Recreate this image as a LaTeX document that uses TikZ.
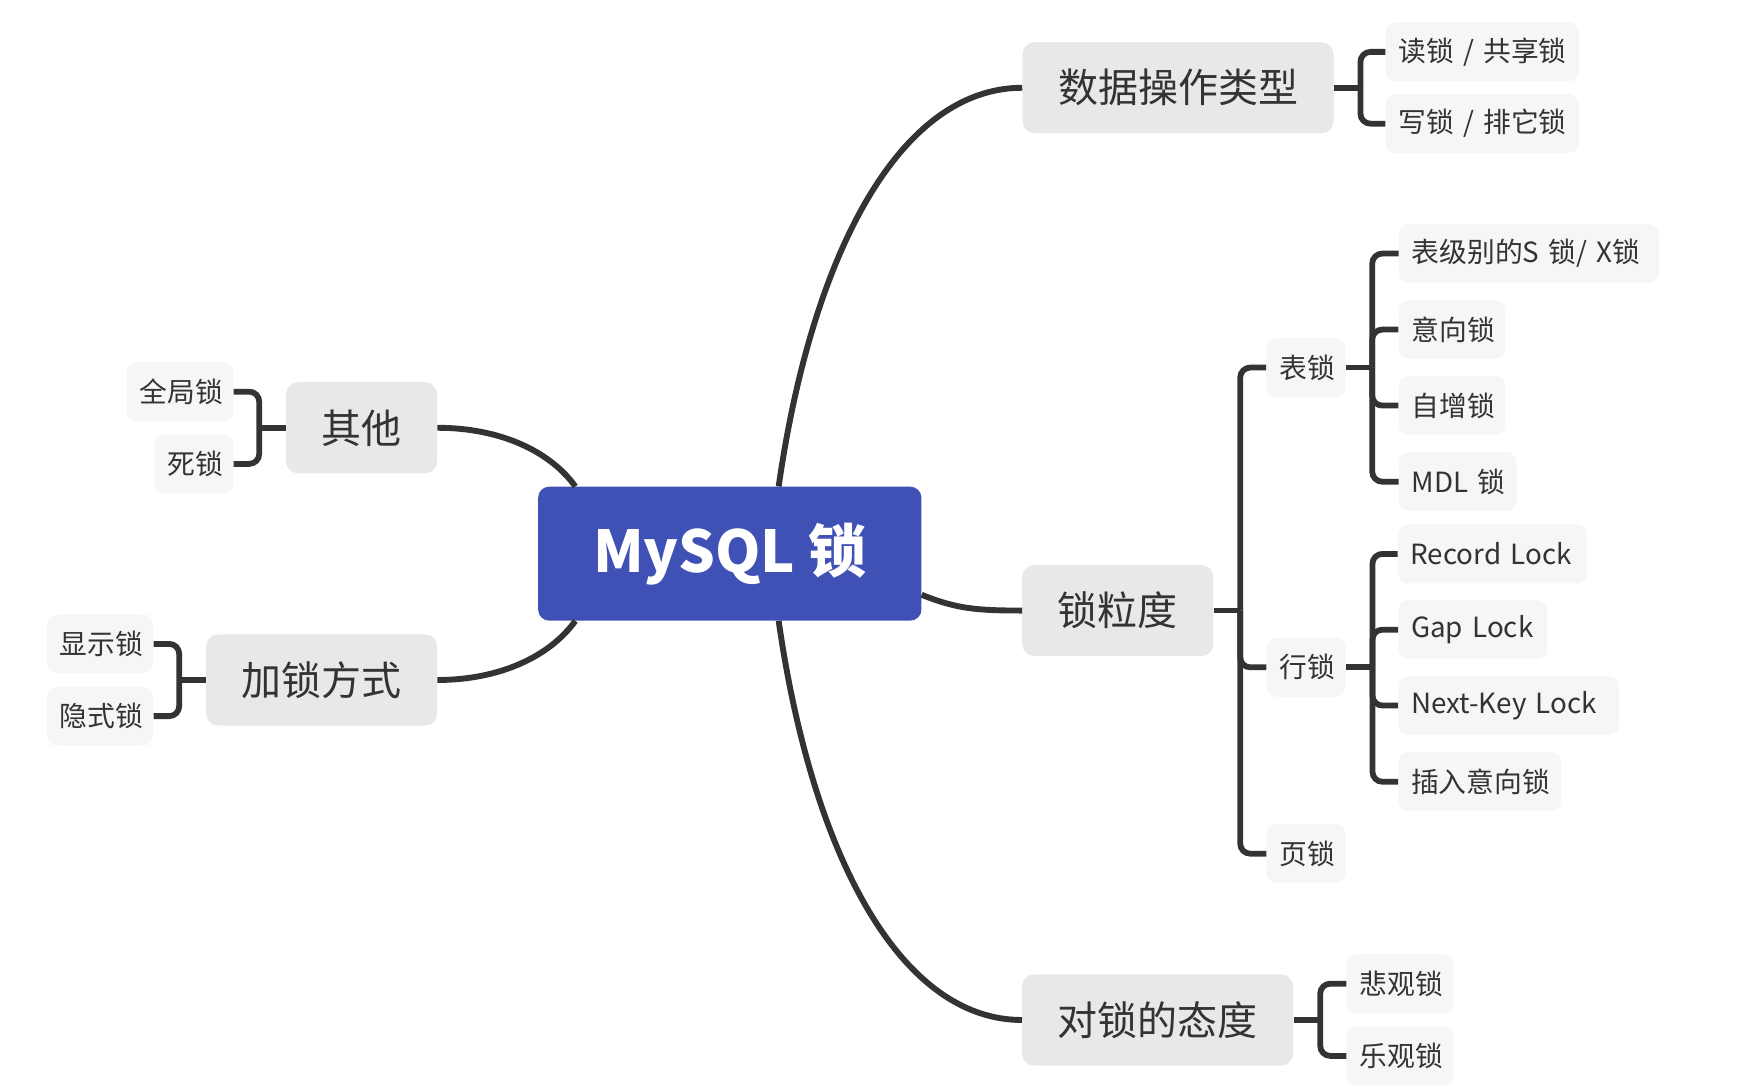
\documentclass[tikz,border=0pt]{standalone}
\usepackage{fontspec}
\setmainfont{Noto Sans CJK SC}
\definecolor{rootblue}{RGB}{63,81,181}
\definecolor{lonegray}{RGB}{232,232,232}
\definecolor{ltwogray}{RGB}{246,246,246}
\definecolor{txtc}{RGB}{51,51,51}
\definecolor{linec}{RGB}{51,51,51}
\tikzset{
  rootnode/.style={rectangle, rounded corners=10pt, fill=rootblue, text=white, inner sep=0pt,
    minimum width=345pt, minimum height=120.6pt, font=\fontsize{52}{60}\selectfont\bfseries},
  lone/.style={rectangle, rounded corners=11pt, fill=lonegray, text=txtc, inner sep=0pt,
    minimum height=82pt, font=\fontsize{36}{42}\selectfont},
  ltwo/.style={rectangle, rounded corners=9pt, fill=ltwogray, text=txtc, inner ysep=0pt,
    inner xsep=11.5pt, minimum height=53pt, align=left, font=\fontsize{25}{30}\selectfont},
  curvec/.style={draw=linec, line width=5.3pt},
  brk/.style={draw=linec, line width=5.2pt, rounded corners=9pt},
}
\begin{document}
\begin{tikzpicture}[x=1pt, y=-1pt]
\useasboundingbox (0,0) rectangle (1564.2,979.2);

% root
\node[rootnode] (root) at (656.8,498.3) {MySQL 锁};

% level 1
\node[lone, minimum width=280pt] (n1) at (1060.2,79) {数据操作类型};
\node[lone, minimum width=172pt] (n2) at (1006,549.5) {锁粒度};
\node[lone, minimum width=244pt] (n3) at (1042,918) {对锁的态度};
\node[lone, minimum width=136pt] (n4) at (325.5,385) {其他};
\node[lone, minimum width=208pt] (n5) at (289.5,612) {加锁方式};

% level 2
\node[ltwo, text width=151pt] (a1) at (1334,46.7) {\mbox{读锁 / 共享锁}};
\node[ltwo, text width=151pt] (a2) at (1334,111.3) {\mbox{写锁 / 排它锁}};
\node[ltwo, text width=48pt] (b1) at (1175.3,330.8) {\mbox{表锁}};
\node[ltwo, text width=48pt] (b2) at (1175.5,600.6) {\mbox{行锁}};
\node[ltwo, text width=48pt] (b3) at (1175.5,768.3) {\mbox{页锁}};
\node[ltwo, text width=211pt] (c1) at (1376,228.2) {\mbox{表级别的S 锁/ X锁}};
\node[ltwo, text width=73pt] (c2) at (1306.8,296.6) {\mbox{意向锁}};
\node[ltwo, text width=73pt] (c3) at (1306.8,365) {\mbox{自增锁}};
\node[ltwo, text width=83pt] (c4) at (1312,433.5) {\mbox{MDL 锁}};
\node[ltwo, text width=147pt] (d1) at (1343,498.5) {\mbox{Record Lock}};
\node[ltwo, text width=111pt] (d2) at (1325.5,566.7) {\mbox{Gap Lock}};
\node[ltwo, text width=175.5pt] (d3) at (1357.8,635) {\mbox{Next-Key Lock}};
\node[ltwo, text width=123.7pt] (d4) at (1331.8,703.6) {\mbox{插入意向锁}};
\node[ltwo, text width=73pt] (e1) at (1260,885.3) {\mbox{悲观锁}};
\node[ltwo, text width=73pt] (e2) at (1260,950.3) {\mbox{乐观锁}};
\node[ltwo, text width=73pt] (f1) at (162,352.5) {\mbox{全局锁}};
\node[ltwo, text width=48pt] (f2) at (174.5,417.5) {\mbox{死锁}};
\node[ltwo, text width=73pt] (g1) at (90,579.5) {\mbox{显示锁}};
\node[ltwo, text width=73pt] (g2) at (90,644.5) {\mbox{隐式锁}};

% main curves
\draw[curvec] ([xshift=44pt]root.north) .. controls +(30,-210) and +(-110,0) .. (n1.west);
\draw[curvec] ([xshift=44pt]root.south) .. controls +(30,210) and +(-110,0) .. (n3.west);
\draw[curvec] ([yshift=-37pt]root.east) .. controls +(31,12.5) and +(-41,0) .. (n2.west);
\draw[curvec] (n4.east) .. controls +(56,0) and +(-23,-32) .. ([xshift=-139pt]root.north);
\draw[curvec] (n5.east) .. controls +(56,0) and +(-23,32) .. ([xshift=-139pt]root.south);

% junction points
\coordinate (j1) at ([xshift=24pt]n1.east);
\coordinate (j2) at ([xshift=24pt]n2.east);
\coordinate (j3) at ([xshift=24pt]n3.east);
\coordinate (jb1) at ([xshift=24pt]b1.east);
\coordinate (jb2) at ([xshift=24pt]b2.east);
\coordinate (j4) at ([xshift=-24pt]n4.west);
\coordinate (j5) at ([xshift=-24pt]n5.west);

% brackets
\draw[brk] (n1.east) -- (j1);
\draw[brk] (j1) |- (a1.west);
\draw[brk] (j1) |- (a2.west);

\draw[brk] (n2.east) -- (j2);
\draw[brk] (j2) |- (b1.west);
\draw[brk] (j2) |- (b2.west);
\draw[brk] (j2) |- (b3.west);

\draw[brk] (b1.east) -- (jb1);
\draw[brk] (jb1) |- (c1.west);
\draw[brk] (jb1) |- (c2.west);
\draw[brk] (jb1) |- (c3.west);
\draw[brk] (jb1) |- (c4.west);

\draw[brk] (b2.east) -- (jb2);
\draw[brk] (jb2) |- (d1.west);
\draw[brk] (jb2) |- (d2.west);
\draw[brk] (jb2) |- (d3.west);
\draw[brk] (jb2) |- (d4.west);

\draw[brk] (n3.east) -- (j3);
\draw[brk] (j3) |- (e1.west);
\draw[brk] (j3) |- (e2.west);

\draw[brk] (n4.west) -- (j4);
\draw[brk] (j4) |- (f1.east);
\draw[brk] (j4) |- (f2.east);

\draw[brk] (n5.west) -- (j5);
\draw[brk] (j5) |- (g1.east);
\draw[brk] (j5) |- (g2.east);
\end{tikzpicture}
\end{document}
